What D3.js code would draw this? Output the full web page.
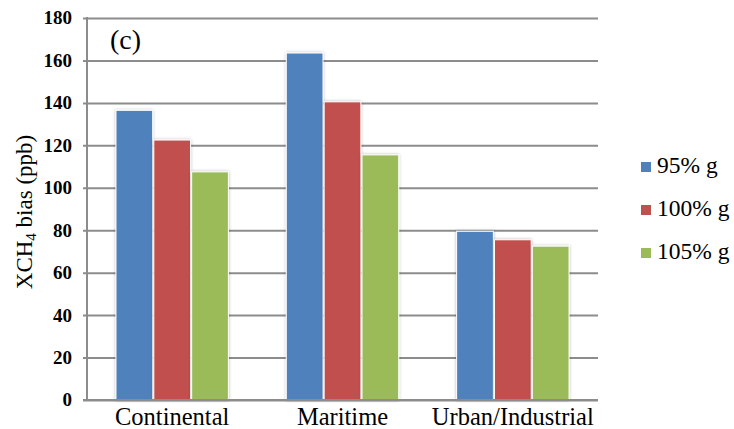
<!DOCTYPE html>
<html>
<head>
<meta charset="utf-8">
<script src="https://cdn.jsdelivr.net/npm/d3@7"></script>
</head>
<body style="margin:0">
<svg id="chart" width="734" height="429"></svg>
<script>
// Chart data
const categories = ["Continental", "Maritime", "Urban/Industrial"];
const seriesNames = ["95% g", "100% g", "105% g"];
const seriesColors = ["#4F81BD", "#C0504D", "#9BBB59"];
const values95 = [136.5, 163.5, 79.5];
const values100 = [122.5, 140.5, 75.5];
const values105 = [107.5, 115.5, 72.5];
const yTicks = [0, 20, 40, 60, 80, 100, 120, 140, 160, 180];

const seriesValues = [values95, values100, values105];
const SERIF = '"Liberation Serif"';

const svg = d3.select("#chart");
const plot = { left: 87, right: 598, top: 18, bottom: 400 };

const y = d3.scaleLinear().domain([0, 180]).range([plot.bottom, plot.top]);
const x0 = d3.scaleBand().domain(categories)
  .range([plot.left, plot.right]).paddingInner(0.34).paddingOuter(0.17);
const x1 = d3.scaleBand().domain(d3.range(seriesNames.length))
  .range([0, x0.bandwidth()]).paddingInner(0.03);

// soft shadow behind bars
const defs = svg.append("defs");
const f = defs.append("filter").attr("id", "shadow")
  .attr("x", "-20%").attr("y", "-10%").attr("width", "140%").attr("height", "120%");
f.append("feDropShadow").attr("dx", 0).attr("dy", 0).attr("stdDeviation", 1.5)
  .attr("flood-color", "#000").attr("flood-opacity", 0.3);

// gridlines + short left ticks from the axis generator
const yAxis = d3.axisLeft(y).tickValues(yTicks)
  .tickSize(-(plot.right - plot.left)).tickFormat("");
const gAxis = svg.append("g").attr("transform", `translate(${plot.left},0)`).call(yAxis);
gAxis.select(".domain").remove();
gAxis.selectAll(".tick text").remove();
gAxis.selectAll(".tick line").attr("stroke", "#8c8c8c").attr("stroke-width", 2).attr("x1", -4);

// tick labels, placed with the same scale
svg.selectAll("text.ylab").data(yTicks).join("text")
  .attr("class", "ylab")
  .attr("x", plot.left - 15)
  .attr("y", d => y(d))
  .attr("dy", "0.34em")
  .attr("text-anchor", "end")
  .style("font-family", SERIF).style("font-size", "19px").style("font-weight", "bold")
  .attr("fill", "#000")
  .text(d3.format("d"));

// vertical axis line
svg.append("line")
  .attr("x1", plot.left).attr("x2", plot.left)
  .attr("y1", y(180) - 1).attr("y2", y(0) + 1)
  .attr("stroke", "#8c8c8c").attr("stroke-width", 2);

// bars
const groups = svg.append("g").selectAll("g").data(categories).join("g")
  .attr("transform", d => `translate(${x0(d)},0)`);
groups.selectAll("rect")
  .data((c, ci) => seriesValues.map((s, si) => ({ si, v: s[ci] })))
  .join("rect")
  .attr("x", d => x1(d.si))
  .attr("width", x1.bandwidth())
  .attr("y", d => y(d.v))
  .attr("height", d => y(0) - y(d.v))
  .attr("fill", d => seriesColors[d.si])
  .attr("stroke", "#fff").attr("stroke-width", 1)
  .attr("filter", "url(#shadow)");

// baseline drawn over the bars
svg.append("line")
  .attr("x1", plot.left - 4).attr("x2", plot.right)
  .attr("y1", y(0)).attr("y2", y(0))
  .attr("stroke", "#8c8c8c").attr("stroke-width", 2);

// category labels
svg.selectAll("text.xlab").data(categories).join("text")
  .attr("class", "xlab")
  .attr("x", d => x0(d) + x0.bandwidth() / 2)
  .attr("y", 425)
  .attr("text-anchor", "middle")
  .style("font-family", SERIF).style("font-size", "24.5px")
  .text(d => d);

// y-axis title with subscript
const yt = svg.append("text")
  .attr("transform", `translate(32,212) rotate(-90)`)
  .attr("text-anchor", "middle")
  .style("font-family", SERIF).style("font-size", "23px");
yt.append("tspan").text("XCH");
yt.append("tspan").style("font-size", "15px").attr("dy", 4).text("4");
yt.append("tspan").attr("dy", -4).text(" bias (ppb)");

// panel label
svg.append("text").attr("x", 110).attr("y", 49)
  .style("font-family", SERIF).style("font-size", "28px").text("(c)");

// legend
const legendY = i => 162 + i * 43;
svg.selectAll("rect.key").data(seriesNames).join("rect")
  .attr("class", "key")
  .attr("x", 641).attr("y", (d, i) => legendY(i))
  .attr("width", 10).attr("height", 10)
  .attr("fill", (d, i) => seriesColors[i]);
svg.selectAll("text.key").data(seriesNames).join("text")
  .attr("class", "key")
  .attr("x", 657).attr("y", (d, i) => legendY(i) + 11)
  .style("font-family", SERIF).style("font-size", "23.5px")
  .text(d => d);
</script>
</body>
</html>
